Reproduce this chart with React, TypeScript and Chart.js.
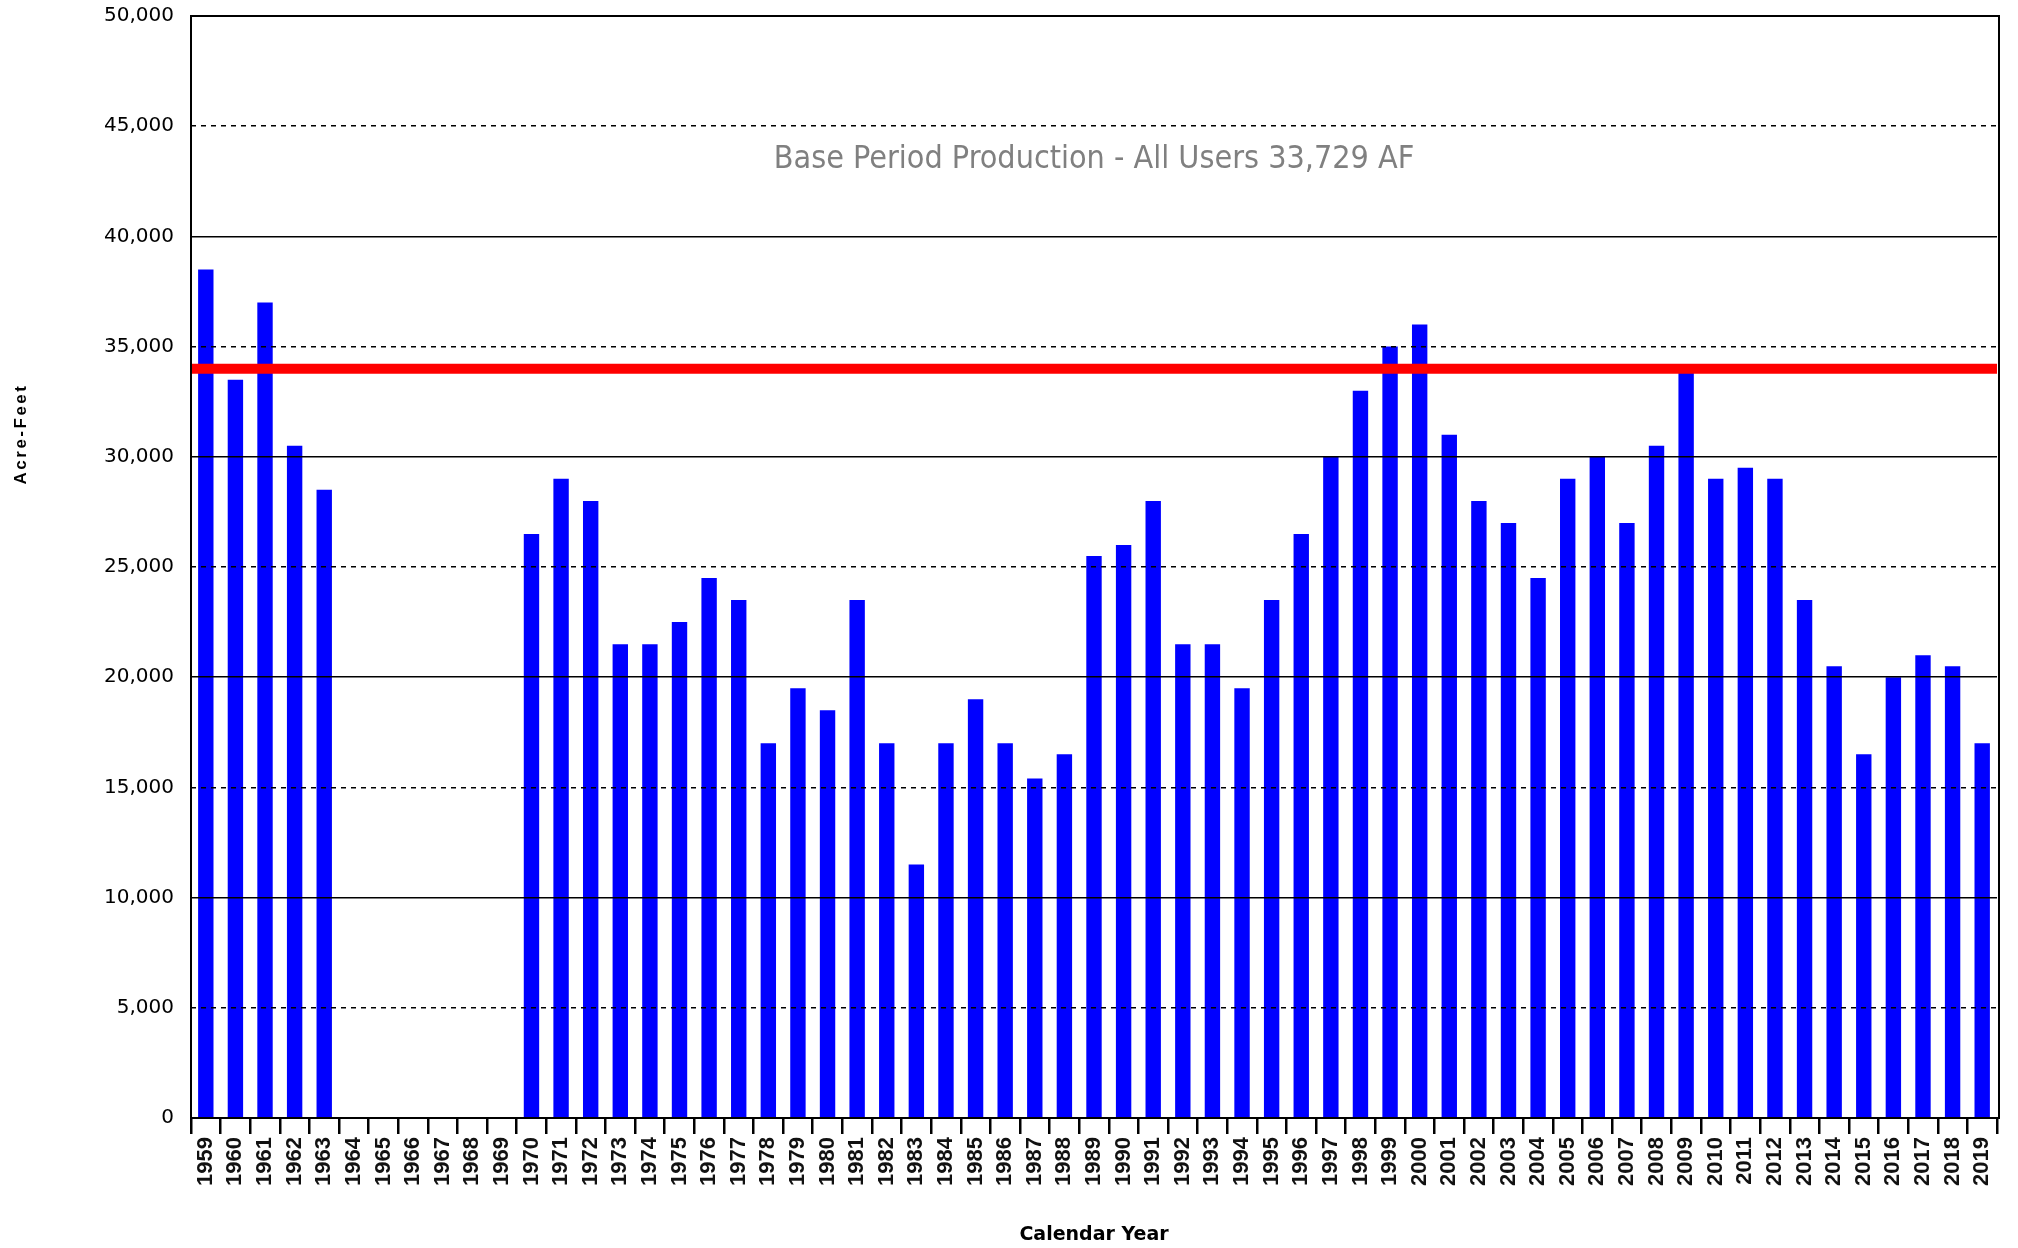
import React, { useEffect, useRef } from "react";
import { Chart, registerables } from "chart.js";

Chart.register(...registerables);

const YEARS = [
  "1959", "1960", "1961", "1962", "1963", "1964", "1965", "1966", "1967", "1968",
  "1969", "1970", "1971", "1972", "1973", "1974", "1975", "1976", "1977", "1978",
  "1979", "1980", "1981", "1982", "1983", "1984", "1985", "1986", "1987", "1988",
  "1989", "1990", "1991", "1992", "1993", "1994", "1995", "1996", "1997", "1998",
  "1999", "2000", "2001", "2002", "2003", "2004", "2005", "2006", "2007", "2008",
  "2009", "2010", "2011", "2012", "2013", "2014", "2015", "2016", "2017", "2018",
  "2019",
];

const PRODUCTION: (number | null)[] = [
  38500, 33500, 37000, 30500, 28500, null, null, null, null, null,
  null, 26500, 29000, 28000, 21500, 21500, 22500, 24500, 23500, 17000,
  19500, 18500, 23500, 17000, 11500, 17000, 19000, 17000, 15400, 16500,
  25500, 26000, 28000, 21500, 21500, 19500, 23500, 26500, 30000, 33000,
  35000, 36000, 31000, 28000, 27000, 24500, 29000, 30000, 27000, 30500,
  34000, 29000, 29500, 29000, 23500, 20500, 16500, 20000, 21000, 20500,
  17000,
];

const Y_MIN = 0;
const Y_MAX = 50000;
const Y_STEP = 5000;
const BASE_LINE = 34000;
const BASE_LABEL = "Base Period Production - All Users 33,729 AF";
const BASE_LABEL_AT = 43500;
const X_TITLE = "Calendar Year";
const Y_TITLE = "Acre-Feet";

const overlayPlugin = {
  id: "overlay",
  afterDatasetsDraw(chart: any) {
    const { ctx, chartArea, scales } = chart;
    const y = scales.y;
    const py = y.getPixelForValue(BASE_LINE);
    ctx.save();
    ctx.strokeStyle = "#ff0000";
    ctx.lineWidth = 10;
    ctx.beginPath();
    ctx.moveTo(chartArea.left, py);
    ctx.lineTo(chartArea.right, py);
    ctx.stroke();
    ctx.fillStyle = "#808080";
    ctx.font = "32px 'DejaVu Sans Condensed', 'Liberation Sans Narrow', 'DejaVu Sans'";
    ctx.textAlign = "center";
    ctx.textBaseline = "middle";
    ctx.fillText(BASE_LABEL, (chartArea.left + chartArea.right) / 2, y.getPixelForValue(BASE_LABEL_AT));
    ctx.restore();
  },
  afterDraw(chart: any) {
    const { ctx, chartArea } = chart;
    ctx.save();
    ctx.strokeStyle = "#000";
    ctx.lineWidth = 2;
    ctx.strokeRect(chartArea.left, chartArea.top, chartArea.right - chartArea.left + 2, chartArea.bottom - chartArea.top);
    ctx.translate(21, 434);
    ctx.rotate(-Math.PI / 2);
    ctx.fillStyle = "#000";
    ctx.font = "bold 17px 'Liberation Sans', Arial";
    (ctx as any).letterSpacing = "2.5px";
    ctx.textAlign = "center";
    ctx.textBaseline = "middle";
    ctx.fillText(Y_TITLE, 0, 0);
    ctx.restore();
  },
};

export default function App() {
  const ref = useRef<HTMLCanvasElement | null>(null);

  useEffect(() => {
    if (!ref.current) return;
    const chart = new Chart(ref.current, {
      type: "bar",
      data: {
        labels: YEARS,
        datasets: [
          {
            data: PRODUCTION as any,
            backgroundColor: "#0000ff",
            borderWidth: 0,
            barPercentage: 0.52,
            categoryPercentage: 1,
          },
        ],
      },
      options: {
        responsive: false,
        animation: false,
        devicePixelRatio: 1,
        layout: { padding: { top: 16, right: 21, left: 0, bottom: 0 } },
        plugins: {
          legend: { display: false },
          tooltip: { enabled: false },
        },
        scales: {
          x: {
            offset: true,
            grid: {
              display: true,
              drawOnChartArea: false,
              drawTicks: true,
              tickLength: 16,
              offset: true,
              color: "#000",
              lineWidth: 2.5,
            },
            border: { display: false },
            ticks: {
              autoSkip: false,
              minRotation: 90,
              maxRotation: 90,
              padding: 3,
              color: "#111",
              font: { family: "'Liberation Sans', Arial", size: 22, weight: "bold" },
            },
            title: {
              display: true,
              text: X_TITLE,
              color: "#000",
              font: { family: "'DejaVu Sans'", size: 19, weight: "bold" },
              padding: { top: 0, bottom: 2 },
            },
            afterFit: (s: any) => {
              s.height = 130;
            },
          },
          y: {
            min: Y_MIN,
            max: Y_MAX,
            ticks: {
              stepSize: Y_STEP,
              padding: 0,
              color: "#000",
              font: { family: "'DejaVu Sans'", size: 20 },
              callback: (v: any) => Number(v).toLocaleString("en-US"),
            },
            grid: {
              z: 1,
              drawTicks: true,
              tickLength: 17,
              tickColor: "rgba(0,0,0,0)",
              color: "#000",
              lineWidth: 1.5,
            },
            border: {
              display: false,
              dash: (ctx: any) =>
                ctx.tick && ctx.tick.value % (Y_STEP * 2) !== 0 ? [5, 5] : [],
            },
            afterFit: (s: any) => {
              s.width = 191;
            },
          },
        },
      } as any,
      plugins: [overlayPlugin],
    });
    return () => chart.destroy();
  }, []);

  return (
    <div style={{ position: "absolute", left: 0, top: 0, width: 2018, height: 1248, background: "#fff" }}>
      <canvas ref={ref} width={2018} height={1248} style={{ display: "block" }} />
    </div>
  );
}
